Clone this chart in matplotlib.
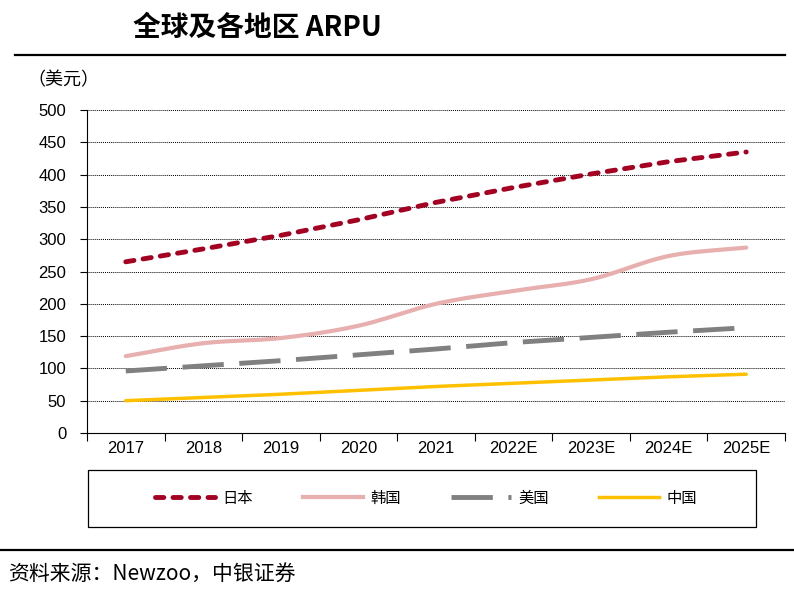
import numpy as np
import matplotlib
matplotlib.use("Agg")
import matplotlib.pyplot as plt
from matplotlib.lines import Line2D
from matplotlib.patches import Rectangle

plt.rcParams['font.family'] = ['Liberation Sans Narrow', 'Liberation Sans', 'Noto Sans CJK SC', 'DejaVu Sans']

years = ['2017', '2018', '2019', '2020', '2021', '2022E', '2023E', '2024E', '2025E']
japan = [265, 285, 306, 330, 357, 380, 401, 420, 435]
korea = [119, 139, 147, 166, 200, 220, 238, 274, 287]
usa = [96, 104, 112, 121, 130, 140, 148, 156, 163]
china = [50, 55, 60, 66, 72, 77, 82, 87, 91]
names = ['日本', '韩国', '美国', '中国']
yticks = [0, 50, 100, 150, 200, 250, 300, 350, 400, 450, 500]

def smooth(y, n=20):
    y = np.asarray(y, float)
    x = np.arange(len(y), dtype=float)
    p = np.concatenate([[2*y[0]-y[1]], y, [2*y[-1]-y[-2]]])
    xs, ys = [], []
    for i in range(len(y)-1):
        p0, p1, p2, p3 = p[i], p[i+1], p[i+2], p[i+3]
        t = np.linspace(0, 1, n, endpoint=False)
        ys.append(0.5*((2*p1) + (-p0+p2)*t + (2*p0-5*p1+4*p2-p3)*t**2 + (-p0+3*p1-3*p2+p3)*t**3))
        xs.append(x[i] + t)
    xs.append([x[-1]]); ys.append([y[-1]])
    return np.concatenate(xs), np.concatenate(ys)

W, H = 794, 598
fig = plt.figure(figsize=(W/100, H/100), dpi=100)
ax = fig.add_axes([87/W, 1-433/H, (785-87)/W, (433-110)/H])

x = np.arange(len(years))
c_jp, c_kr, c_us, c_cn = '#A50021', '#E8AFAF', '#808080', '#FFC000'
jp_dash = (1.7, 1.9)
us_dash = (8.5, 3.2)
ax.plot(x, japan, color=c_jp, lw=3.5, dashes=jp_dash, dash_capstyle='round')
kx, ky = smooth(korea)
ax.plot(kx, ky, color=c_kr, lw=3.0, solid_capstyle='round')
ax.plot(x, usa, color=c_us, lw=3.5, dashes=us_dash)
ax.plot(x, china, color=c_cn, lw=2.5, solid_capstyle='round')

ax.set_xlim(-0.5, len(years)-0.5)
ax.set_ylim(0, 500)
ax.set_yticks(yticks)
ax.set_yticklabels([str(v) for v in yticks], fontsize=12)
ax.set_xticks(x)
ax.set_xticklabels(years, fontsize=12)
ax.set_xticks(np.arange(-0.5, len(years)), minor=True)
ax.tick_params(axis='x', which='major', length=0, pad=6)
ax.tick_params(axis='x', which='minor', length=6, direction='out', width=0.8)
ax.tick_params(axis='y', length=5, direction='out', width=0.8, pad=10)
for s in ['top', 'right']:
    ax.spines[s].set_visible(False)
ax.spines['left'].set_linewidth(0.8)
ax.spines['bottom'].set_linewidth(0.8)
for v in yticks[1:]:
    ax.axhline(v, color='black', lw=0.7, ls=(0, (1, 1)), zorder=0)

cjk = ['Noto Sans CJK SC', 'DejaVu Sans']
# title and decorations
fig.text(257/W, 1-28/H, '全球及各地区 ARPU', fontsize=20, fontweight='bold',
         ha='center', va='center', family=cjk)
fig.add_artist(Line2D([15/W, 785/W], [1-55/H, 1-55/H], color='black', lw=1.6))
fig.text(27/W, 1-80/H, '（美元）', fontsize=13, ha='left', va='center', family=cjk)
fig.add_artist(Line2D([0, 1], [1-550/H, 1-550/H], color='black', lw=1.6))
fig.text(8/W, 1-574/H, '资料来源：Newzoo，中银证券', fontsize=15, style='italic',
         ha='left', va='center', family=cjk)

# legend box
fig.add_artist(Rectangle((88/W, 1-527/H), (756-88)/W, (527-470)/H, transform=fig.transFigure,
                         fill=False, edgecolor='black', lw=0.9))
handles = [
    Line2D([], [], color=c_jp, lw=3.5, dashes=jp_dash, dash_capstyle='round'),
    Line2D([], [], color=c_kr, lw=3.0),
    Line2D([], [], color=c_us, lw=3.5, dashes=us_dash),
    Line2D([], [], color=c_cn, lw=2.5),
]
leg = fig.legend(handles, names, loc='center', bbox_to_anchor=(426/W, 1-498/H), ncol=4,
                 frameon=False, handlelength=3.9, columnspacing=3.3, handletextpad=0.5,
                 prop={'family': cjk, 'size': 11})

fig.savefig('out.png', dpi=100)
